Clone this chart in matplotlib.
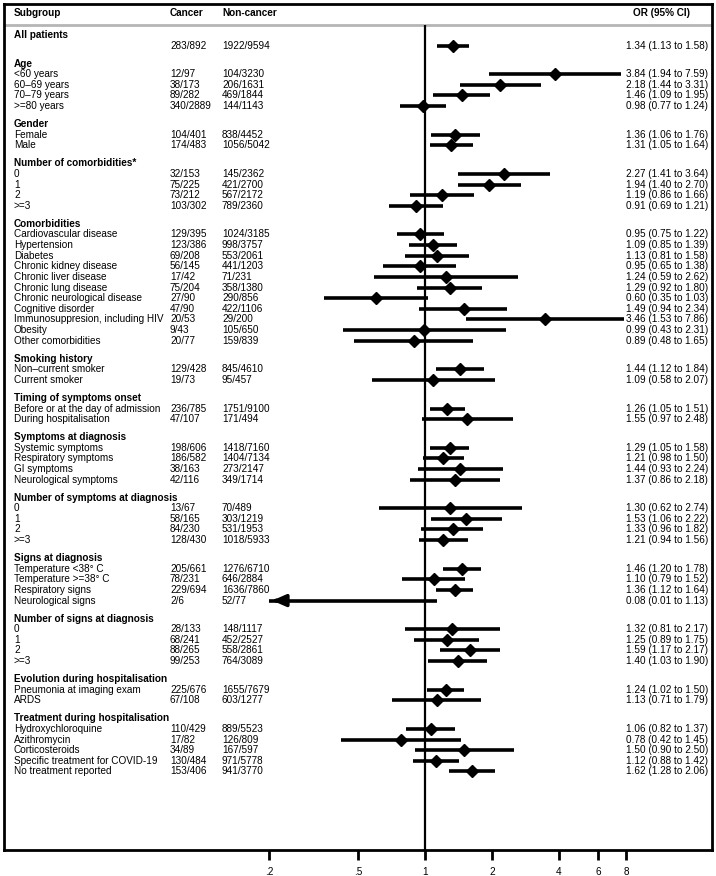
import numpy as np
import matplotlib.pyplot as plt

plt.rcParams['font.family'] = ['Liberation Sans', 'DejaVu Sans']

# group titles and how many rows each has
groups = ['All patients', 'Age', 'Gender', 'Number of comorbidities*', 'Comorbidities',
          'Smoking history', 'Timing of symptoms onset', 'Symptoms at diagnosis',
          'Number of symptoms at diagnosis', 'Signs at diagnosis', 'Number of signs at diagnosis',
          'Evolution during hospitalisation', 'Treatment during hospitalisation']
group_sizes = [1, 4, 2, 4, 11, 2, 2, 4, 4, 4, 4, 2, 5]

labels = ['',
          '<60 years', '60–69 years', '70–79 years', '>=80 years',
          'Female', 'Male',
          '0', '1', '2', '>=3',
          'Cardiovascular disease', 'Hypertension', 'Diabetes', 'Chronic kidney disease',
          'Chronic liver disease', 'Chronic lung disease', 'Chronic neurological disease',
          'Cognitive disorder', 'Immunosuppresion, including HIV', 'Obesity', 'Other comorbidities',
          'Non–current smoker', 'Current smoker',
          'Before or at the day of admission', 'During hospitalisation',
          'Systemic symptoms', 'Respiratory symptoms', 'GI symptoms', 'Neurological symptoms',
          '0', '1', '2', '>=3',
          'Temperature <38° C', 'Temperature >=38° C', 'Respiratory signs', 'Neurological signs',
          '0', '1', '2', '>=3',
          'Pneumonia at imaging exam', 'ARDS',
          'Hydroxychloroquine', 'Azithromycin', 'Corticosteroids',
          'Specific treatment for COVID-19', 'No treatment reported']

cancer = ['283/892',
          '12/97', '38/173', '89/282', '340/2889',
          '104/401', '174/483',
          '32/153', '75/225', '73/212', '103/302',
          '129/395', '123/386', '69/208', '56/145', '17/42', '75/204', '27/90', '47/90',
          '20/53', '9/43', '20/77',
          '129/428', '19/73',
          '236/785', '47/107',
          '198/606', '186/582', '38/163', '42/116',
          '13/67', '58/165', '84/230', '128/430',
          '205/661', '78/231', '229/694', '2/6',
          '28/133', '68/241', '88/265', '99/253',
          '225/676', '67/108',
          '110/429', '17/82', '34/89', '130/484', '153/406']

noncancer = ['1922/9594',
             '104/3230', '206/1631', '469/1844', '144/1143',
             '838/4452', '1056/5042',
             '145/2362', '421/2700', '567/2172', '789/2360',
             '1024/3185', '998/3757', '553/2061', '441/1203', '71/231', '358/1380', '290/856',
             '422/1106', '29/200', '105/650', '159/839',
             '845/4610', '95/457',
             '1751/9100', '171/494',
             '1418/7160', '1404/7134', '273/2147', '349/1714',
             '70/489', '303/1219', '531/1953', '1018/5933',
             '1276/6710', '646/2884', '1636/7860', '52/77',
             '148/1117', '452/2527', '558/2861', '764/3089',
             '1655/7679', '603/1277',
             '889/5523', '126/809', '167/597', '971/5778', '941/3770']

odds = [1.34,
        3.84, 2.18, 1.46, 0.98,
        1.36, 1.31,
        2.27, 1.94, 1.19, 0.91,
        0.95, 1.09, 1.13, 0.95, 1.24, 1.29, 0.60, 1.49, 3.46, 0.99, 0.89,
        1.44, 1.09,
        1.26, 1.55,
        1.29, 1.21, 1.44, 1.37,
        1.30, 1.53, 1.33, 1.21,
        1.46, 1.10, 1.36, 0.08,
        1.32, 1.25, 1.59, 1.40,
        1.24, 1.13,
        1.06, 0.78, 1.50, 1.12, 1.62]
lower = [1.13,
         1.94, 1.44, 1.09, 0.77,
         1.06, 1.05,
         1.41, 1.40, 0.86, 0.69,
         0.75, 0.85, 0.81, 0.65, 0.59, 0.92, 0.35, 0.94, 1.53, 0.43, 0.48,
         1.12, 0.58,
         1.05, 0.97,
         1.05, 0.98, 0.93, 0.86,
         0.62, 1.06, 0.96, 0.94,
         1.20, 0.79, 1.12, 0.01,
         0.81, 0.89, 1.17, 1.03,
         1.02, 0.71,
         0.82, 0.42, 0.90, 0.88, 1.28]
upper = [1.58,
         7.59, 3.31, 1.95, 1.24,
         1.76, 1.64,
         3.64, 2.70, 1.66, 1.21,
         1.22, 1.39, 1.58, 1.38, 2.62, 1.80, 1.03, 2.34, 7.86, 2.31, 1.65,
         1.84, 2.07,
         1.51, 2.48,
         1.58, 1.50, 2.24, 2.18,
         2.74, 2.22, 1.82, 1.56,
         1.78, 1.52, 1.64, 1.13,
         2.17, 1.75, 2.17, 1.90,
         1.50, 1.79,
         1.37, 1.45, 2.50, 1.42, 2.06]

tick_vals = [0.2, 0.5, 1, 2, 4, 6, 8]
tick_labels = ['.2', '.5', '1', '2', '4', '6', '8']
clip_lo, clip_hi = 0.2, 8

W, H = 716, 876
fig = plt.figure(figsize=(W / 100, H / 100), dpi=100)
left, right, top, bottom = 4, 712, 4, 850
ax = fig.add_axes([left / W, 1 - bottom / H, (right - left) / W, (bottom - top) / H])

# log axis: 1 at x=425 px, one doubling = 67 px
ax.set_xscale('log')
ax.set_xlim(2 ** (-(425 - left) / 67), 2 ** ((right - 425) / 67))
ax.set_ylim(bottom, top)


def fx(px):
    return (px - left) / (right - left)


tr = ax.get_yaxis_transform()
fs = 7.2

# header
ax.text(fx(14), 13, 'Subgroup', transform=tr, fontsize=fs, fontweight='bold', va='center')
ax.text(fx(170), 13, 'Cancer', transform=tr, fontsize=fs, fontweight='bold', va='center')
ax.text(fx(222), 13, 'Non-cancer', transform=tr, fontsize=fs, fontweight='bold', va='center')
ax.text(fx(690), 13, 'OR (95% CI)', transform=tr, fontsize=fs, fontweight='bold', va='center', ha='right')
ax.axhline(25, color='#b5b5b5', lw=2)
ax.vlines(1, 25, bottom, color='black', lw=1.6, zorder=2)

step, gap = 10.62, 18
y = 35
i = 0
for g, n in zip(groups, group_sizes):
    ax.text(fx(14), y, g, transform=tr, fontsize=fs, fontweight='bold', va='center')
    for k in range(n):
        y += step
        ax.text(fx(14), y, labels[i], transform=tr, fontsize=fs, va='center')
        ax.text(fx(170), y, cancer[i], transform=tr, fontsize=fs, va='center')
        ax.text(fx(222), y, noncancer[i], transform=tr, fontsize=fs, va='center')
        ax.text(fx(708), y, f'{odds[i]:.2f} ({lower[i]:.2f} to {upper[i]:.2f})',
                transform=tr, fontsize=fs, va='center', ha='right')
        lo = max(lower[i], clip_lo)
        hi = min(upper[i], clip_hi)
        ax.plot([lo, hi], [y, y], color='black', lw=2.6, solid_capstyle='butt', zorder=3)
        if lower[i] < clip_lo:
            ax.annotate('', xy=(lo, y), xytext=(lo * 1.12, y),
                        arrowprops=dict(arrowstyle='-|>,head_length=0.8,head_width=0.35',
                                        color='black', lw=2.6), zorder=3)
        if clip_lo <= odds[i] <= clip_hi:
            ax.plot(odds[i], y, marker='D', color='black', ms=6.2, zorder=4)
        i += 1
    y += gap

ax.set_xticks(tick_vals)
ax.set_xticklabels(tick_labels, fontsize=fs)
ax.xaxis.set_minor_locator(plt.NullLocator())
ax.tick_params(axis='x', direction='out', length=7, width=2, pad=5)
ax.set_yticks([])
for s in ax.spines.values():
    s.set_linewidth(2)

fig.savefig('out.png', dpi=100)
